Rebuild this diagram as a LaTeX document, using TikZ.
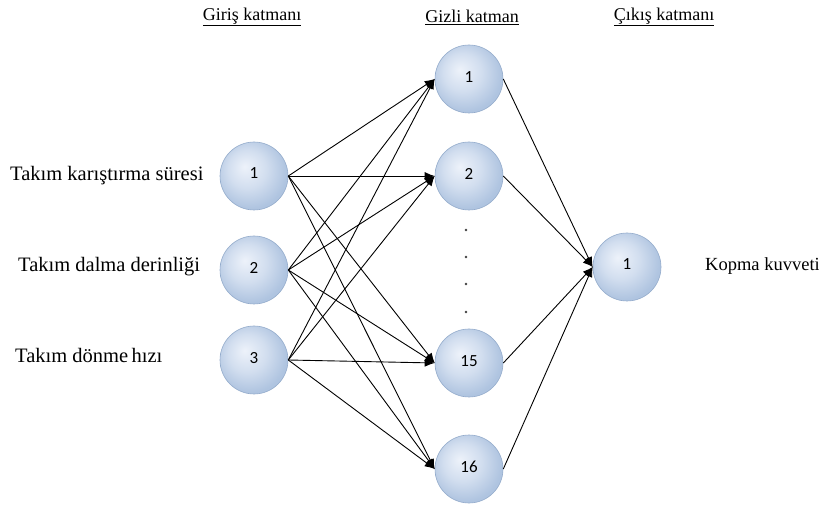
\documentclass[tikz,border=0pt]{standalone}
\usepackage{fontspec}
\setmainfont{Liberation Serif}
\newfontfamily\numfont{Carlito}
\usetikzlibrary{arrows.meta}
\definecolor{nA}{HTML}{EDF2FA}
\definecolor{nB}{HTML}{D2DEEF}
\definecolor{nC}{HTML}{AFC4E0}
\definecolor{nD}{HTML}{93ABCB}
\pgfdeclareradialshading{nshade}{\pgfpoint{-7bp}{7bp}}{color(0bp)=(nA); color(14bp)=(nB); color(27bp)=(nC); color(50bp)=(nC)}
\begin{document}
\begin{tikzpicture}[x=1pt,y=-1pt,
  neuron/.style={circle, minimum size=68pt, inner sep=0pt, shading=nshade, draw=nD, line width=0.6pt, font=\numfont\fontsize{17}{17}\selectfont},
  lbl/.style={font=\fontsize{20.5}{22}\selectfont, anchor=west, inner sep=0pt},
  hdr/.style={font=\fontsize{18}{20}\selectfont, inner sep=0pt},
  conn/.style={line width=0.9pt, -{Latex[length=10pt,width=8pt]}},
  dotmark/.style={circle, fill=black!75, inner sep=0pt, minimum size=2.6pt}]
\useasboundingbox (0,0) rectangle (819,510);
% headers
\node[hdr] (h1) at (252,17) {\underline{Giriş katmanı}};
\node[hdr] (h2) at (472,17) {\underline{Gizli katman}};
\node[hdr] (h3) at (664,17) {\underline{Çıkış katmanı}};
% input nodes
\node[neuron] (i1) at (254,176) {\raisebox{5pt}{1}};
\node[neuron] (i2) at (254,270) {\raisebox{5pt}{2}};
\node[neuron] (i3) at (254,360) {\raisebox{5pt}{3}};
% hidden nodes
\node[neuron] (k1) at (469,79) {\raisebox{4pt}{1}};
\node[neuron] (k2) at (469,176) {\raisebox{4pt}{2}};
\node[neuron] (k15) at (469,363) {\raisebox{4pt}{15}};
\node[neuron] (k16) at (469,469) {\raisebox{4pt}{16}};
% output
\node[neuron] (o1) at (627,267) {\raisebox{5pt}{1}};
% dots
\node[dotmark] (d1) at (466,230) {};
\node[dotmark] (d2) at (466,257) {};
\node[dotmark] (d3) at (466,284) {};
\node[dotmark] (d4) at (466,312) {};
% labels
\node[lbl] (l1) at (10,176) {Takım karıştırma\ süresi};
\node[lbl] (l2) at (18,267) {Takım dalma derinliği};
\node[lbl] (l3) at (15,355) {Takım dönme\,hızı};
\node[lbl, font=\fontsize{18.5}{20}\selectfont] (l4) at (705,266) {Kopma kuvveti};
% connections
\foreach \a in {i1,i2,i3}{
  \foreach \b in {k1,k2,k15,k16}{
    \draw[conn] (\a.east) -- (\b.west);
  }
}
\foreach \b in {k1,k2,k15,k16}{
  \draw[conn] (\b.east) -- (o1.west);
}
\end{tikzpicture}
\end{document}
